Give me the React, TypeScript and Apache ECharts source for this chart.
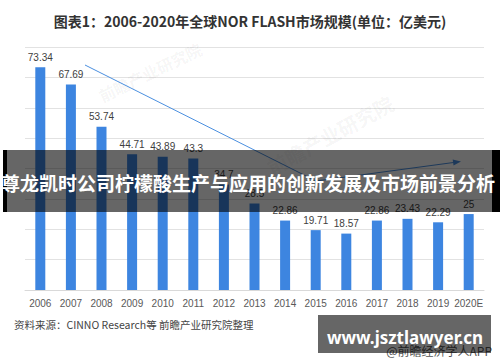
import React, { useEffect, useRef } from "react";
import * as echarts from "echarts";

const years = ["2006", "2007", "2008", "2009", "2010", "2011", "2012", "2013", "2014", "2015", "2016", "2017", "2018", "2019", "2020E"];
const marketSize = [73.34, 67.69, 53.74, 44.71, 43.89, 43.3, 34.7, 28.5, 22.86, 19.71, 18.57, 22.86, 23.43, 22.29, 25];
const titleText = "图表1：2006-2020年全球NOR FLASH市场规模(单位：亿美元)";
const bannerText = "尊龙凯时公司柠檬酸生产与应用的创新发展及市场前景分析";
const sourceText = "资料来源：CINNO Research等 前瞻产业研究院整理";
const siteText = "www.jsztlawyer.cn";
const appText = "@前瞻经济学人APP";

export default function App() {
  const ref = useRef<HTMLDivElement>(null);
  useEffect(() => {
    if (!ref.current) return;
    const chart = echarts.init(ref.current, null, { renderer: "svg" });
    const cjk = "'Noto Sans CJK SC', 'Noto Sans', sans-serif";
    const lat = "'Liberation Sans', Arial, sans-serif";
    chart.setOption({
      animation: false,
      backgroundColor: "#ffffff",
      title: {
        text: titleText,
        left: "center",
        top: 9,
        textStyle: { fontSize: 14, fontWeight: "bold", color: "#333333", fontFamily: cjk },
      },
      grid: { left: 25, right: 16, top: 47, bottom: 72, containLabel: false },
      xAxis: {
        type: "category",
        data: years,
        axisTick: { show: false },
        axisLine: { lineStyle: { color: "#d9d9d9" } },
        axisLabel: { color: "#595959", fontSize: 10, margin: 8, interval: 0, fontFamily: lat },
      },
      yAxis: {
        type: "value",
        min: 0,
        max: 80,
        interval: 10,
        axisLabel: { show: false },
        axisLine: { show: false },
        axisTick: { show: false },
        splitLine: { lineStyle: { color: "#e2e2e2" } },
      },
      series: [
        {
          type: "bar",
          data: marketSize,
          barWidth: 10,
          itemStyle: { color: "#3d85e0" },
          label: { show: true, position: "top", distance: 5, color: "#404040", fontSize: 10, fontFamily: lat },
        },
      ],
      graphic: [
        {
          type: "text", x: 150, y: 72, rotation: 0.45, z: 1,
          style: { text: "前瞻产业研究院", fill: "rgba(0,0,0,0.05)", fontSize: 16, fontWeight: "bold", fontFamily: cjk, textAlign: "center", textVerticalAlign: "middle" },
        },
        {
          type: "text", x: 330, y: 135, rotation: 0.5, z: 1,
          style: { text: "前瞻产业研究院", fill: "rgba(0,0,0,0.05)", fontSize: 20, fontWeight: "bold", fontFamily: cjk, textAlign: "center", textVerticalAlign: "middle" },
        },
        {
          type: "line", z: 5,
          shape: { x1: 85, y1: 65, x2: 316, y2: 181 },
          style: { stroke: "#4a8fe0", lineWidth: 1 },
        },
        {
          type: "line", z: 5,
          shape: { x1: 316, y1: 181, x2: 455, y2: 162.3 },
          style: { stroke: "#4a8fe0", lineWidth: 1 },
        },
        {
          type: "polygon", z: 5,
          shape: { points: [[461, 161.5], [453.5, 165.6], [452.7, 159.6]] },
          style: { fill: "#4a8fe0" },
        },
        {
          type: "rect", z: 50,
          shape: { x: 7, y: 150, width: 485, height: 62 },
          style: { fill: "rgba(0,0,0,0.6)" },
        },
        {
          type: "rect", z: 50,
          shape: { x: 3, y: 150, width: 4, height: 62 },
          style: { fill: "#000000" },
        },
        {
          type: "rect", z: 50,
          shape: { x: 492, y: 150, width: 8, height: 62 },
          style: { fill: "#000000" },
        },
        {
          type: "text", x: 248, y: 182, z: 60,
          style: { text: bannerText, fill: "#ffffff", fontSize: 19, fontWeight: "bold", fontFamily: cjk, textAlign: "center", textVerticalAlign: "middle" },
        },
        {
          type: "text", x: 14, y: 324, z: 20,
          style: { text: sourceText, fill: "#444444", fontSize: 10.5, fontFamily: cjk, textAlign: "left", textVerticalAlign: "middle" },
        },
        {
          type: "text", x: 492, y: 350, z: 20,
          style: { text: appText, fill: "#555555", fontSize: 12, fontFamily: cjk, textAlign: "right", textVerticalAlign: "middle" },
        },
        {
          type: "rect", z: 50,
          shape: { x: 318, y: 315, width: 173, height: 38 },
          style: { fill: "rgba(0,0,0,0.6)" },
        },
        {
          type: "text", x: 405, y: 337, z: 60,
          style: { text: siteText, fill: "#ffffff", fontSize: 17, fontWeight: "bold", fontFamily: "'Noto Sans', 'DejaVu Sans', sans-serif", textAlign: "center", textVerticalAlign: "middle" },
        },
      ],
    });
    return () => chart.dispose();
  }, []);
  return <div ref={ref} style={{ position: "fixed", left: 0, top: 0, width: 500, height: 362 }} />;
}
